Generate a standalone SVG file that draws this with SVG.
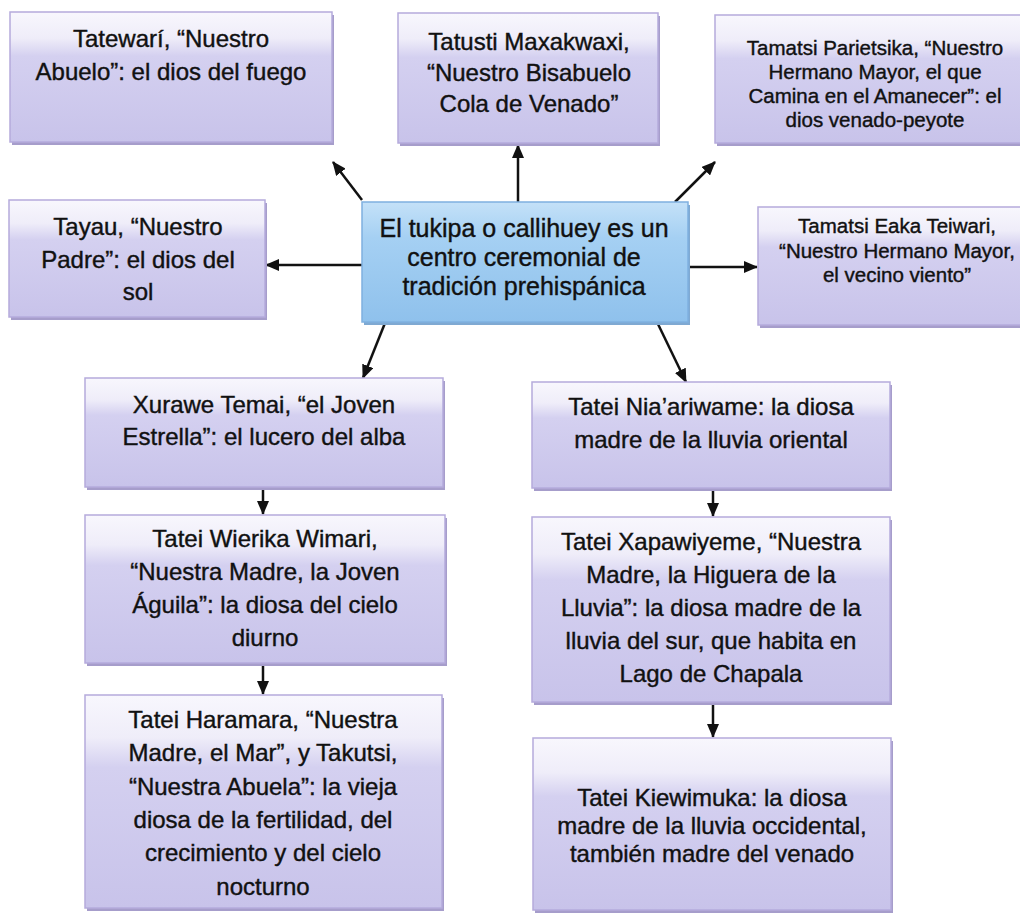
<svg xmlns="http://www.w3.org/2000/svg" width="1020" height="913" viewBox="0 0 1020 913">
<defs>
<linearGradient id="lav" x1="0" y1="0" x2="0" y2="1">
<stop offset="0" stop-color="#f8f7fd"/>
<stop offset="0.2" stop-color="#efedf9"/>
<stop offset="0.34" stop-color="#d4d0f0"/>
<stop offset="1" stop-color="#c8c3ea"/>
</linearGradient>
<linearGradient id="blu" x1="0" y1="0" x2="0" y2="1">
<stop offset="0" stop-color="#c4e1f8"/>
<stop offset="0.3" stop-color="#a5d0f3"/>
<stop offset="1" stop-color="#8fc1ec"/>
</linearGradient>
<marker id="ah" markerUnits="userSpaceOnUse" markerWidth="14" markerHeight="12" refX="13" refY="6" orient="auto">
<path d="M0,0 L14,6 L0,12 Z" fill="#111"/>
</marker>
</defs>
<style>
.sh{fill:#a69dcb}
.bx{fill:url(#lav);stroke:#b5abdc;stroke-width:1.5}
.shc{fill:#7fa9d2}
.bxc{fill:url(#blu);stroke:#7fb0e0;stroke-width:1.5}
text{font-family:"Liberation Sans",Arial,sans-serif;font-size:24px;fill:#111;stroke:#111;stroke-width:0.4;text-anchor:middle}
.s20{font-size:20.5px}
.s25{font-size:25px}
.cn{stroke:#111;stroke-width:2.5;fill:none;marker-end:url(#ah)}
</style>
<rect width="1020" height="913" fill="#ffffff"/>

<g id="connectors">
<line class="cn" x1="362" y1="200" x2="333" y2="162"/>
<line class="cn" x1="518" y1="202" x2="518" y2="145"/>
<line class="cn" x1="675" y1="202" x2="715" y2="162"/>
<line class="cn" x1="362" y1="265" x2="266" y2="265"/>
<line class="cn" x1="688" y1="267" x2="757" y2="267"/>
<line class="cn" x1="385" y1="323" x2="363" y2="378"/>
<line class="cn" x1="657" y1="322" x2="686" y2="382"/>
<line class="cn" x1="263" y1="488" x2="263" y2="514"/>
<line class="cn" x1="263" y1="664" x2="263" y2="694"/>
<line class="cn" x1="713" y1="489" x2="713" y2="516"/>
<line class="cn" x1="713" y1="703" x2="713" y2="737"/>
</g>

<g id="n-tatewari">
<rect class="sh" x="12" y="15" width="322" height="130"/>
<rect class="bx" x="10" y="12" width="322" height="130"/>
<text x="171" y="47">Tatewarí, “Nuestro</text>
<text x="171" y="80">Abuelo”: el dios del fuego</text>
</g>

<g id="n-tatusti">
<rect class="sh" x="400" y="16" width="260" height="130"/>
<rect class="bx" x="398" y="13" width="260" height="130"/>
<text x="529" y="50">Tatusti Maxakwaxi,</text>
<text x="529" y="81">“Nuestro Bisabuelo</text>
<text x="529" y="112">Cola de Venado”</text>
</g>

<g id="n-parietsika">
<rect class="sh" x="717" y="18" width="320" height="128"/>
<rect class="bx" x="715" y="15" width="320" height="128"/>
<text class="s20" x="875" y="55">Tamatsi Parietsika, “Nuestro</text>
<text class="s20" x="875" y="79">Hermano Mayor, el que</text>
<text class="s20" x="875" y="103">Camina en el Amanecer”: el</text>
<text class="s20" x="875" y="127">dios venado-peyote</text>
</g>

<g id="n-tayau">
<rect class="sh" x="11" y="203" width="256" height="117"/>
<rect class="bx" x="9" y="200" width="256" height="117"/>
<text x="138" y="235">Tayau, “Nuestro</text>
<text x="138" y="268">Padre”: el dios del</text>
<text x="138" y="300">sol</text>
</g>

<g id="n-center">
<rect class="shc" x="364" y="205" width="326" height="120"/>
<rect class="bxc" x="362" y="202" width="326" height="120"/>
<text class="s25" x="524" y="237">El tukipa o callihuey es un</text>
<text class="s25" x="524" y="266">centro ceremonial de</text>
<text class="s25" x="524" y="295">tradición prehispánica</text>
</g>

<g id="n-eaka">
<rect class="sh" x="760" y="210" width="280" height="118"/>
<rect class="bx" x="758" y="207" width="280" height="118"/>
<text class="s20" x="897" y="233">Tamatsi Eaka Teiwari,</text>
<text class="s20" x="897" y="258">“Nuestro Hermano Mayor,</text>
<text class="s20" x="897" y="282">el vecino viento”</text>
</g>

<g id="n-xurawe">
<rect class="sh" x="87" y="381" width="358" height="109"/>
<rect class="bx" x="85" y="378" width="358" height="109"/>
<text x="264" y="413">Xurawe Temai, “el Joven</text>
<text x="264" y="445">Estrella”: el lucero del alba</text>
</g>

<g id="n-niaariwame">
<rect class="sh" x="534" y="385" width="358" height="106"/>
<rect class="bx" x="532" y="382" width="358" height="106"/>
<text x="711" y="415">Tatei Nia’ariwame: la diosa</text>
<text x="711" y="448">madre de la lluvia oriental</text>
</g>

<g id="n-wierika">
<rect class="sh" x="87" y="518" width="360" height="148"/>
<rect class="bx" x="85" y="515" width="360" height="148"/>
<text x="265" y="547">Tatei Wierika Wimari,</text>
<text x="265" y="580">“Nuestra Madre, la Joven</text>
<text x="265" y="613">Águila”: la diosa del cielo</text>
<text x="265" y="646">diurno</text>
</g>

<g id="n-xapawiyeme">
<rect class="sh" x="534" y="520" width="358" height="185"/>
<rect class="bx" x="532" y="517" width="358" height="185"/>
<text x="711" y="550">Tatei Xapawiyeme, “Nuestra</text>
<text x="711" y="583">Madre, la Higuera de la</text>
<text x="711" y="616">Lluvia”: la diosa madre de la</text>
<text x="711" y="649">lluvia del sur, que habita en</text>
<text x="711" y="682">Lago de Chapala</text>
</g>

<g id="n-haramara">
<rect class="sh" x="87" y="698" width="357" height="213"/>
<rect class="bx" x="85" y="695" width="357" height="213"/>
<text x="263" y="728">Tatei Haramara, “Nuestra</text>
<text x="263" y="761">Madre, el Mar”, y Takutsi,</text>
<text x="263" y="795">“Nuestra Abuela”: la vieja</text>
<text x="263" y="828">diosa de la fertilidad, del</text>
<text x="263" y="861">crecimiento y del cielo</text>
<text x="263" y="895">nocturno</text>
</g>

<g id="n-kiewimuka">
<rect class="sh" x="535" y="741" width="358" height="172"/>
<rect class="bx" x="533" y="738" width="358" height="172"/>
<text x="712" y="806">Tatei Kiewimuka: la diosa</text>
<text x="712" y="834">madre de la lluvia occidental,</text>
<text x="712" y="862">también madre del venado</text>
</g>
</svg>
